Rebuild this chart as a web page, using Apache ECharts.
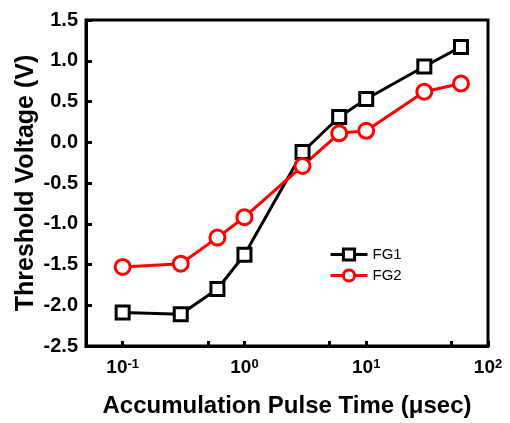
<!DOCTYPE html>
<html>
<head>
<meta charset="utf-8">
<script src="https://cdn.jsdelivr.net/npm/echarts@6/dist/echarts.min.js"></script>
<style>
  html, body { margin: 0; padding: 0; background: #fff; }
  #chart { width: 510px; height: 423px; }
</style>
</head>
<body>
<div id="chart"></div>
<script>
var chart = echarts.init(document.getElementById('chart'));

// pulse time (usec)
let pulseTime = [0.1, 0.3, 0.6, 1, 3, 6, 10, 30, 60];
let fg1 = [-2.09, -2.11, -1.80, -1.38, -0.12, 0.31, 0.53, 0.93, 1.17];
let fg2 = [-1.53, -1.49, -1.17, -0.92, -0.29, 0.11, 0.14, 0.62, 0.72];
let majorTicks = [0.1, 1, 10, 100];
let allTicks = [0.1, 0.5, 1, 5, 10, 50, 100];

function pairs(ys) {
  return pulseTime.map(function (t, i) { return [t, ys[i]]; });
}

var font = 'Liberation Sans';

chart.setOption({
  animation: false,
  grid: {
    left: 86, top: 20, right: 22, bottom: 77,
    show: true, borderColor: '#000', borderWidth: 3
  },
  legend: {
    orient: 'vertical',
    left: 324, top: 242,
    itemWidth: 37, itemHeight: 14, itemGap: 6,
    lineStyle: { width: 3 },
    itemStyle: { borderWidth: 3 },
    textStyle: { fontFamily: font, fontSize: 15, color: '#000' },
    data: ['FG1', 'FG2']
  },
  xAxis: {
    type: 'log', min: 0.05, max: 100,
    name: 'Accumulation Pulse Time (\u03bcsec)',
    nameLocation: 'middle', nameGap: 48, nameMoveOverlap: false,
    nameTextStyle: { fontFamily: font, fontWeight: 'bold', fontSize: 24, color: '#000' },
    axisLine: { onZero: false, lineStyle: { color: '#000', width: 3 } },
    axisTick: { show: true, inside: true, length: 5, customValues: allTicks, lineStyle: { color: '#000', width: 3 } },
    axisLabel: {
      customValues: majorTicks, margin: 12,
      formatter: function (v) {
        return '{b|10}{s|' + Math.round(Math.log10(v)) + '}';
      },
      rich: {
        b: { fontFamily: font, fontWeight: 'bold', fontSize: 19, color: '#000', lineHeight: 20 },
        s: { fontFamily: font, fontWeight: 'bold', fontSize: 13, color: '#000', verticalAlign: 'top', lineHeight: 12 }
      }
    },
    splitLine: { show: false }
  },
  yAxis: {
    type: 'value', min: -2.5, max: 1.5, interval: 0.5,
    name: 'Threshold Voltage (V)',
    nameLocation: 'middle', nameGap: 47, nameMoveOverlap: false,
    nameTextStyle: { fontFamily: font, fontWeight: 'bold', fontSize: 25, color: '#000' },
    axisLine: { show: true, onZero: false, lineStyle: { color: '#000', width: 3 } },
    axisTick: { show: true, inside: true, length: 6, lineStyle: { color: '#000', width: 3 } },
    axisLabel: {
      margin: 8,
      fontFamily: font, fontWeight: 'bold', fontSize: 20, color: '#000',
      formatter: function (v) { return v.toFixed(1); }
    },
    splitLine: { show: false }
  },
  series: [
    {
      name: 'FG1', type: 'line', data: pairs(fg1),
      symbol: 'rect', symbolSize: 13,
      lineStyle: { color: '#000', width: 3 },
      itemStyle: { color: '#fff', borderColor: '#000', borderWidth: 3 }
    },
    {
      name: 'FG2', type: 'line', data: pairs(fg2),
      symbol: 'circle', symbolSize: 15,
      lineStyle: { color: '#ff0000', width: 3 },
      itemStyle: { color: '#fff', borderColor: '#ff0000', borderWidth: 3 }
    }
  ]
});
</script>
</body>
</html>
